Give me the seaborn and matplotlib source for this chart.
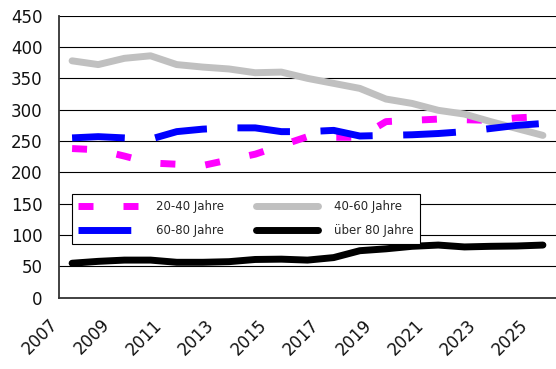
import matplotlib
matplotlib.use("Agg")
import matplotlib.pyplot as plt
import matplotlib.transforms as mtransforms
import seaborn as sns
import pandas as pd
import numpy as np

years = list(range(2007, 2026))
tick_years = [2007, 2009, 2011, 2013, 2015, 2017, 2019, 2021, 2023, 2025]
yticks = [0, 50, 100, 150, 200, 250, 300, 350, 400, 450]

age_20_40 = [238, 236, 226, 215, 213, 211, 220, 229, 243, 257,
             256, 256, 281, 283, 285, 284, 283, 287, 289]
age_40_60 = [378, 372, 382, 386, 372, 368, 365, 359, 360, 350,
             342, 334, 317, 310, 299, 293, 281, 270, 259]
age_60_80 = [255, 257, 255, 253, 265, 269, 271, 271, 265, 265,
             267, 258, 259, 260, 262, 265, 270, 275, 278]
age_80 = [55, 58, 60, 60, 56.5, 56.5, 57.5, 61, 61.5, 60,
          64, 75, 78, 82, 84, 81, 82, 82.5, 84]

labels = ["20-40 Jahre", "40-60 Jahre", "60-80 Jahre", "über 80 Jahre"]
colors = ["#FF00FF", "#C0C0C0", "#0000FF", "#000000"]

df = pd.DataFrame({"Jahr": years, labels[0]: age_20_40, labels[1]: age_40_60,
                   labels[2]: age_60_80, labels[3]: age_80})

sns.set_style("white")
plt.rcParams["font.family"] = ["DejaVu Sans"]

W, H = 556, 369
fig = plt.figure(figsize=(W / 100, H / 100), dpi=100)
ax = fig.add_axes([59 / W, 1 - 297.7 / H, 1 - 59 / W, (297.7 - 15.7) / H])

lw = 5.0
styles = [
    dict(dashes=(2.16, 4.32)),
    dict(dashes=None),
    dict(dashes=(7.6, 4.4)),
    dict(dashes=None),
]
for lab, col, st in zip(labels, colors, styles):
    sns.lineplot(data=df, x="Jahr", y=lab, ax=ax, color=col, linewidth=lw,
                 label=lab, solid_capstyle="round", solid_joinstyle="round",
                 dash_capstyle="butt")
    line = ax.lines[-1]
    if st["dashes"] is not None:
        line.set_dashes(st["dashes"])

ax.set_xlim(2006.5, 2006.5 + 497 / 26.3)
ax.set_ylim(0, 450)
ax.set_yticks(yticks)
ax.set_yticklabels([str(v) for v in yticks])
ax.set_xlabel("")
ax.set_ylabel("")

# grid
for v in yticks[1:]:
    ax.axhline(v, color="#000000", linewidth=0.8, zorder=0)

for s in ["top", "right"]:
    ax.spines[s].set_visible(False)
for s in ["left", "bottom"]:
    ax.spines[s].set_color("#333333")
    ax.spines[s].set_linewidth(1.3)

ax.set_xticks([y - 0.5 for y in years] + [years[-1] + 0.5])
ax.set_xticklabels([])
ax.tick_params(axis="x", which="major", direction="out", length=4, width=1, color="#333333")
ax.set_xticks(tick_years, minor=True)
ax.set_xticklabels([str(y) for y in tick_years], minor=True, rotation=45,
                   ha="right", va="top", fontsize=12)
ax.tick_params(axis="x", which="minor", length=0, pad=13, colors="#111111")
ax.tick_params(axis="y", direction="out", length=6, width=1, color="#333333",
               pad=6, labelsize=12, labelcolor="#111111")

offset = mtransforms.ScaledTranslation(-11 / 100, 0, fig.dpi_scale_trans)
for lbl in ax.get_xticklabels(minor=True):
    lbl.set_transform(lbl.get_transform() + offset)

handles, labs = ax.get_legend_handles_labels()
order = [0, 2, 1, 3]
leg = ax.legend([handles[i] for i in order], [labs[i] for i in order], ncol=2,
                loc="upper left", bbox_to_anchor=(72 / W, 1 - 194 / H),
                bbox_transform=fig.transFigure, borderaxespad=0,
                fontsize=8.5, handlelength=5.25, handletextpad=1.35,
                columnspacing=2.7, borderpad=0.55, labelspacing=0.9,
                frameon=True, fancybox=False, edgecolor="#000000", framealpha=1)
leg.get_frame().set_linewidth(0.8)

fig.savefig("out.png", dpi=100)
